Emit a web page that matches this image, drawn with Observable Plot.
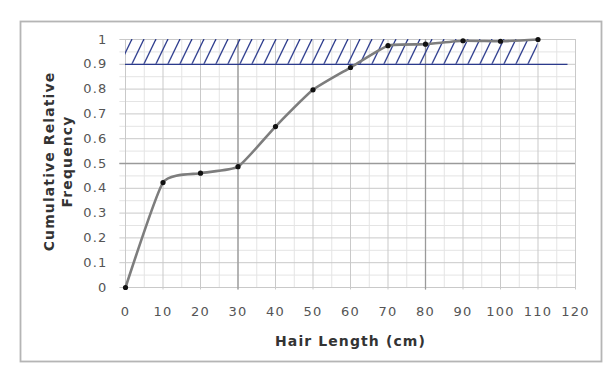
<!DOCTYPE html>
<html><head><meta charset="utf-8">
<script src="https://cdn.jsdelivr.net/npm/d3@7"></script>
<script src="https://cdn.jsdelivr.net/npm/@observablehq/plot@0.6"></script>
<style>
body{margin:0;background:#fff;}
#chart svg{font-family:"DejaVu Sans",sans-serif;background:#fff;}
#chart svg g[aria-label="x-axis tick label"] text,
#chart svg g[aria-label="y-axis tick label"] text,
#chart svg g[aria-label="x-axis"] text,
#chart svg g[aria-label="y-axis"] text{letter-spacing:1.2px;}
</style></head><body><div id="chart"></div>
<script>
// Data
const hairLength = [0, 10, 20, 30, 40, 50, 60, 70, 80, 90, 100, 110];
const cumFreq = [0, 0.423, 0.461, 0.487, 0.649, 0.797, 0.887, 0.975, 0.981, 0.995, 0.993, 1.0];
// Tick labels
const xTicks = [0, 10, 20, 30, 40, 50, 60, 70, 80, 90, 100, 110, 120];
const yTicks = [0, 0.1, 0.2, 0.3, 0.4, 0.5, 0.6, 0.7, 0.8, 0.9, 1];
// Grid lines
const xMinorGrid = [5, 15, 25, 35, 45, 55, 65, 75, 85, 95, 105, 115];
const yMinorGrid = [0.05, 0.15, 0.25, 0.35, 0.45, 0.55, 0.65, 0.75, 0.85, 0.95];
const xMajorGrid = [30, 80];
const yMajorGrid = [0.5];
// Shaded target band
const bandLow = [0.9];
const bandHigh = [1];
const bandHatchEnd = [110];
const bandLineEnd = [118];

const rows = hairLength.map((x, i) => ({x, y: cumFreq[i]}));
const band = bandLow.map((lo, i) => ({x1: 0, x2: bandHatchEnd[i], y1: lo, y2: bandHigh[i], xe: bandLineEnd[i]}));

const plot = Plot.plot({
  width: 616, height: 380,
  marginLeft: 125, marginRight: 41, marginTop: 39, marginBottom: 93,
  x: {domain: [0, 120], ticks: xTicks, tickSize: 0, tickPadding: 19, label: null, tickFormat: d => String(d)},
  y: {domain: [0, 1], ticks: yTicks, tickSize: 0, tickPadding: 18, label: null, tickFormat: d => String(d)},
  style: {fontFamily: "DejaVu Sans, sans-serif", fontSize: "13px", color: "#555", background: "#fff"},
  marks: [
    Plot.ruleX(xMinorGrid, {x: d => d, y1: 0, y2: 1, stroke: "#e4e4e4", strokeWidth: 1}),
    Plot.ruleY(yMinorGrid, {y: d => d, x1: -1.5, x2: 120, stroke: "#e4e4e4", strokeWidth: 1}),
    Plot.ruleX(xTicks, {x: d => d, y1: -0.01, y2: 1, stroke: "#c9c9c9", strokeWidth: 1}),
    Plot.ruleY(yTicks, {y: d => d, x1: -1.5, x2: 120, stroke: "#c9c9c9", strokeWidth: 1}),
    Plot.ruleX(xMajorGrid, {x: d => d, y1: -0.01, y2: 1, stroke: "#9a9a9a", strokeWidth: 1.3}),
    Plot.ruleY(yMajorGrid, {y: d => d, x1: -1.5, x2: 120, stroke: "#9a9a9a", strokeWidth: 1.3}),
    Plot.rect(band, {x1: "x1", x2: "x2", y1: "y1", y2: "y2", fill: "url(#hatch)"}),
    Plot.ruleY(band, {y: "y1", x1: "x1", x2: "xe", stroke: "#2b3a8c", strokeWidth: 1.2}),
    Plot.line(rows, {x: "x", y: "y", curve: "cardinal", tension: 0.5, stroke: "#7d7d7d", strokeWidth: 2.6}),
    Plot.dot(rows, {x: "x", y: "y", r: 2.6, fill: "#111", stroke: "none"}),
    Plot.text(["Hair Length (cm)"], {frameAnchor: "bottom", dy: 58, text: d => d, fontSize: 14, fontWeight: "bold", fill: "#333", lineAnchor: "bottom"}),
    Plot.text(["Cumulative Relative\nFrequency"], {frameAnchor: "left", dx: -68, dy: -2, text: d => d, rotate: -90, fontSize: 14, fontWeight: "bold", fill: "#333", lineAnchor: "middle", lineHeight: 1.3, textAnchor: "middle"})
  ]
});

const svg = d3.select(plot);
const defs = svg.insert("defs", ":first-child");
const pat = defs.append("pattern").attr("id", "hatch").attr("patternUnits", "userSpaceOnUse")
  .attr("x", 0).attr("y", 39).attr("width", 12).attr("height", 24.8);
[-12, 0, 12].forEach(o => {
  pat.append("line").attr("x1", o).attr("y1", 24.8).attr("x2", o + 12).attr("y2", 0)
    .attr("stroke", "#2b3a8c").attr("stroke-width", 1.3);
});
svg.selectAll('g[aria-label="text"] text').style("letter-spacing", "1.1px");
svg.insert("rect", "defs + *").attr("x", 20.5).attr("y", 21.5).attr("width", 581).attr("height", 340)
  .attr("fill", "none").attr("stroke", "#b5b5b5").attr("stroke-width", 1.8);
document.getElementById("chart").appendChild(plot);
</script></body></html>
